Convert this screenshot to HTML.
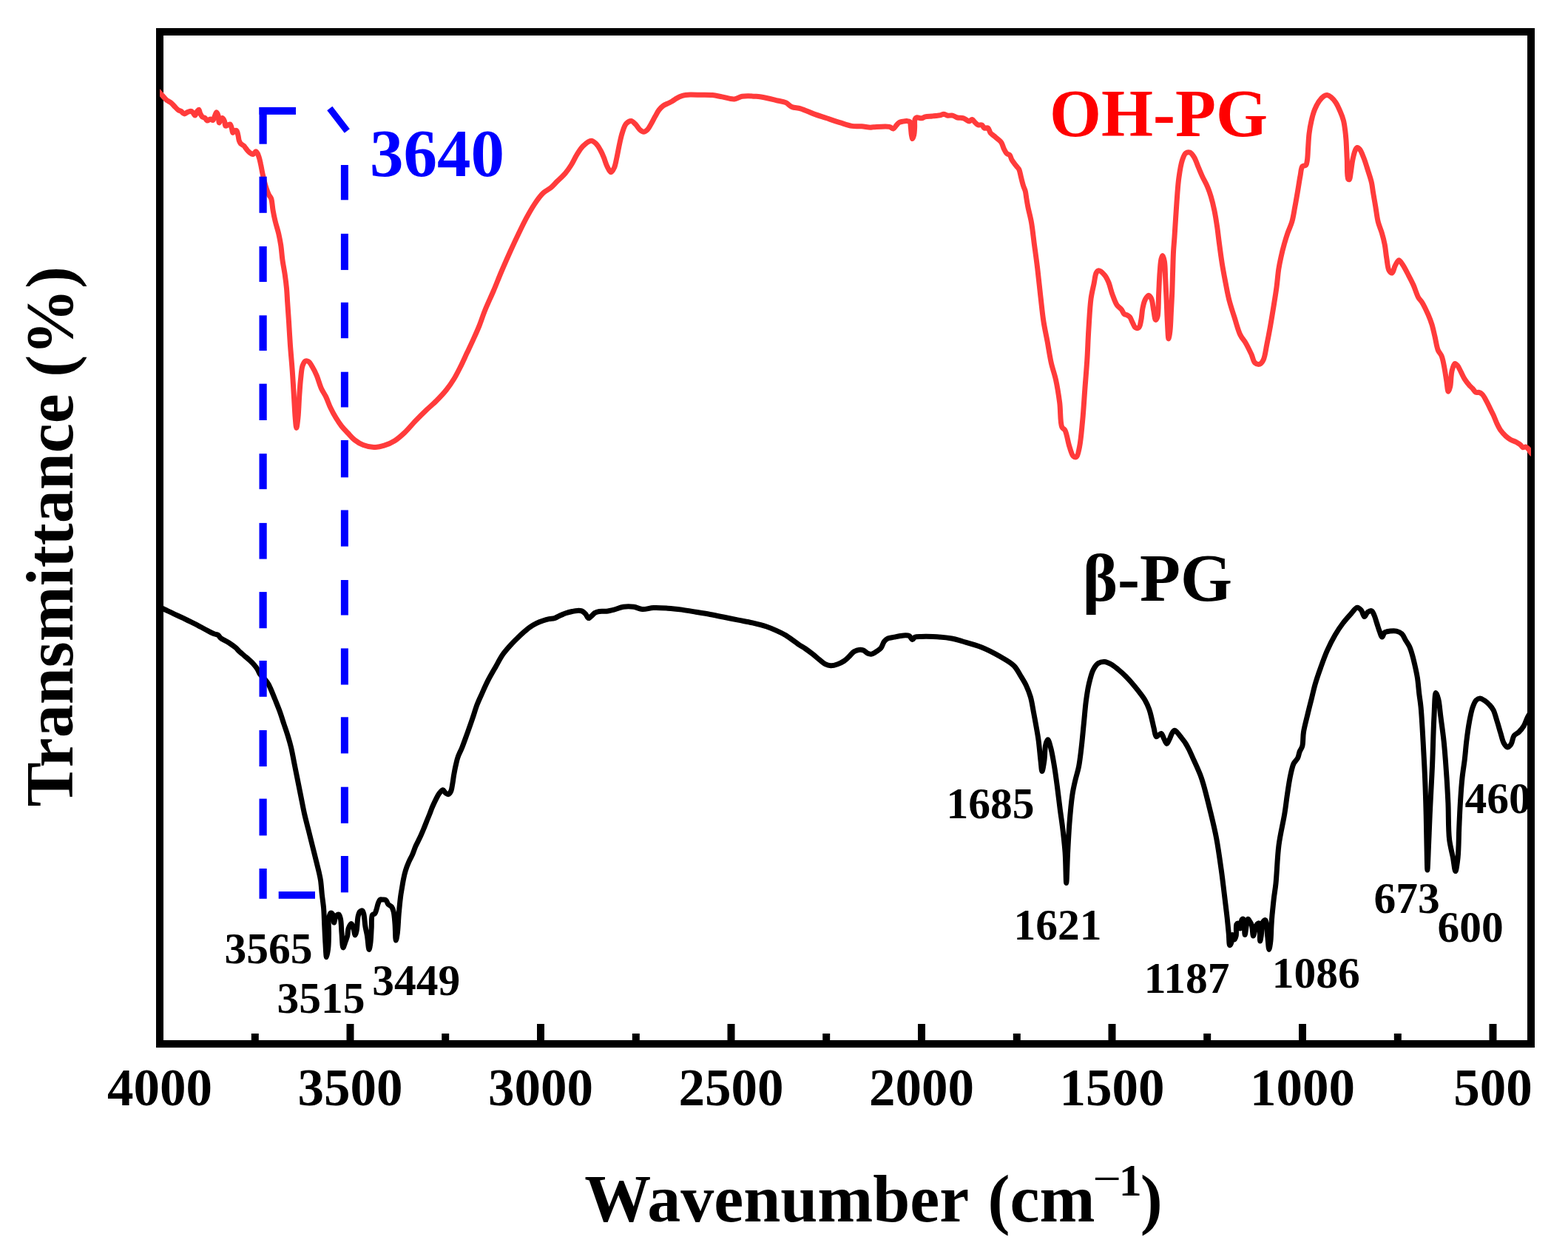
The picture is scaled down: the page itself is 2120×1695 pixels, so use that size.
<!DOCTYPE html>
<html><head><meta charset="utf-8"><style>
html,body{margin:0;padding:0;background:#fff;}
svg{display:block;}
text{font-family:"Liberation Serif","Times New Roman",serif;font-weight:bold;}
</style></head><body>
<svg width="2120" height="1695" viewBox="0 0 2120 1695">
<rect width="2120" height="1695" fill="#ffffff"/>
<defs><clipPath id="pc"><rect x="216" y="0" width="1854" height="1695"/></clipPath></defs>
<rect x="216" y="43" width="1854" height="1368" fill="none" stroke="#000" stroke-width="10"/>
<g stroke="#000" stroke-width="10"><line x1="344.8" y1="1406" x2="344.8" y2="1397.0"/>
<line x1="473.5" y1="1406" x2="473.5" y2="1384.0"/>
<line x1="602.2" y1="1406" x2="602.2" y2="1397.0"/>
<line x1="731.0" y1="1406" x2="731.0" y2="1384.0"/>
<line x1="859.8" y1="1406" x2="859.8" y2="1397.0"/>
<line x1="988.5" y1="1406" x2="988.5" y2="1384.0"/>
<line x1="1117.2" y1="1406" x2="1117.2" y2="1397.0"/>
<line x1="1246.0" y1="1406" x2="1246.0" y2="1384.0"/>
<line x1="1374.8" y1="1406" x2="1374.8" y2="1397.0"/>
<line x1="1503.5" y1="1406" x2="1503.5" y2="1384.0"/>
<line x1="1632.2" y1="1406" x2="1632.2" y2="1397.0"/>
<line x1="1761.0" y1="1406" x2="1761.0" y2="1384.0"/>
<line x1="1889.8" y1="1406" x2="1889.8" y2="1397.0"/>
<line x1="2018.5" y1="1406" x2="2018.5" y2="1384.0"/></g>
<g clip-path="url(#pc)">
<path d="M213.5,122.5 C214.7,123.8 215.9,124.9 217.1,126.3 C218.5,127.8 220.0,129.6 221.4,131.2 C222.8,132.7 224.0,134.2 225.6,135.5 C227.3,136.8 229.6,137.6 231.3,139.0 C233.1,140.4 234.5,142.3 236.2,144.0 C237.8,145.7 239.6,147.8 241.2,148.9 C242.4,149.7 243.5,149.6 244.7,150.3 C246.1,151.2 247.5,153.7 249.0,153.9 C250.4,154.1 251.7,152.4 253.2,151.8 C254.8,151.2 256.8,150.0 258.2,150.3 C259.3,150.5 260.1,151.6 261.0,152.5 C262.0,153.5 262.9,156.1 263.8,156.0 C264.8,155.9 265.7,151.7 266.7,150.3 C267.4,149.4 268.2,148.1 268.8,148.2 C269.7,148.4 270.0,152.2 270.9,153.9 C271.7,155.5 272.5,157.2 273.7,158.1 C274.7,158.9 276.3,158.7 277.3,159.5 C278.4,160.3 278.9,162.8 280.1,163.1 C281.3,163.4 283.0,161.1 284.4,161.0 C285.6,161.0 286.9,162.8 287.9,162.4 C289.2,161.9 289.8,157.9 290.7,156.0 C291.4,154.4 292.1,151.8 292.8,151.8 C293.5,151.8 294.4,154.2 295.0,156.0 C295.8,158.5 295.6,165.8 296.4,165.9 C296.9,166.0 297.6,162.1 298.5,161.0 C299.1,160.2 299.9,159.4 300.6,159.5 C301.6,159.7 302.8,162.1 303.5,163.8 C304.3,165.7 303.8,169.6 304.9,170.2 C305.7,170.6 307.3,169.1 308.4,168.7 C309.4,168.4 310.4,167.6 311.2,168.0 C312.3,168.6 312.8,171.8 313.4,173.7 C314.0,175.6 314.0,179.2 314.8,179.4 C315.3,179.5 316.1,177.7 316.9,177.2 C317.7,176.7 318.9,176.1 319.7,176.5 C320.9,177.1 321.3,180.7 321.9,182.9 C322.5,185.2 322.6,188.0 323.3,190.0 C323.9,191.6 324.4,193.0 325.4,194.2 C326.5,195.4 328.4,195.9 329.6,197.0 C330.7,198.0 331.5,199.4 332.5,200.6 C333.4,201.8 334.2,203.0 335.3,204.1 C336.5,205.4 338.2,207.0 339.6,207.7 C340.6,208.2 341.5,208.7 342.4,208.4 C343.6,208.1 344.9,204.8 345.9,204.8 C346.7,204.8 347.4,206.0 348.0,207.0 C348.9,208.4 349.5,210.5 350.2,212.6 C351.1,215.3 351.8,218.6 352.5,222.0 C353.4,225.9 354.0,230.4 355.0,234.8 C356.0,239.6 357.2,244.9 358.6,249.7 C360.0,254.4 361.9,260.0 363.5,263.3 C364.5,265.4 365.8,266.0 366.6,268.2 C368.0,271.9 368.1,279.0 369.1,284.3 C370.0,289.4 371.0,294.2 372.2,299.2 C373.5,304.5 375.3,309.9 376.6,315.3 C377.8,320.6 378.8,325.7 379.7,331.4 C380.7,337.9 381.1,345.7 382.1,352.5 C383.0,358.9 384.3,364.9 385.2,371.1 C386.1,377.4 386.9,383.6 387.5,390.0 C388.1,396.6 388.3,403.0 388.8,410.0 C389.3,417.8 389.9,426.1 390.5,434.8 C391.1,444.6 391.7,455.5 392.4,465.8 C393.1,476.1 394.1,485.9 394.9,496.7 C395.8,508.5 396.6,522.1 397.3,533.9 C398.0,544.7 398.5,556.7 399.2,564.9 C399.7,570.4 400.2,578.5 400.8,578.5 C401.4,578.5 402.3,570.4 402.9,564.9 C403.8,556.7 404.1,543.4 404.8,533.9 C405.4,525.9 405.8,518.6 406.6,511.6 C407.3,505.5 407.6,498.5 409.1,494.3 C410.1,491.6 411.2,488.9 412.8,488.1 C414.0,487.5 415.9,487.9 417.2,488.7 C419.1,489.8 420.5,492.8 422.1,495.5 C424.2,498.9 426.4,503.4 428.3,507.9 C430.5,513.1 432.2,520.1 434.5,525.2 C436.4,529.4 438.7,532.3 440.7,536.4 C442.9,541.0 444.6,546.5 446.9,551.3 C449.1,556.0 451.7,560.7 454.3,564.9 C456.7,568.8 459.1,572.5 461.8,576.0 C464.5,579.4 467.6,582.4 470.5,585.5 C473.4,588.6 476.0,592.0 479.4,594.6 C482.9,597.3 486.9,599.9 491.2,601.6 C495.6,603.3 500.7,604.5 505.4,604.6 C510.1,604.7 514.9,603.6 519.5,602.2 C524.3,600.7 529.2,598.5 533.7,595.7 C538.3,592.8 542.3,589.2 546.7,585.1 C551.8,580.4 556.9,573.8 562.0,568.6 C566.8,563.7 571.4,559.1 576.2,554.5 C580.9,550.0 585.8,546.0 590.3,541.5 C594.8,537.0 599.3,532.3 603.3,527.3 C607.2,522.4 610.6,517.4 613.9,512.0 C617.3,506.4 620.3,500.2 623.3,494.3 C626.2,488.4 628.8,482.5 631.6,476.6 C634.4,470.7 637.2,464.9 639.9,458.9 C642.7,452.7 645.5,446.6 648.1,440.1 C650.8,433.3 652.9,426.3 655.9,419.0 C659.2,410.9 663.4,402.1 667.1,393.5 C670.9,384.7 674.4,375.3 678.2,366.5 C681.9,357.9 685.6,349.4 689.4,341.0 C693.1,332.9 696.8,324.8 700.6,317.0 C704.3,309.4 707.9,301.8 711.7,294.7 C715.3,288.0 719.0,281.4 722.9,275.6 C726.4,270.4 730.0,265.2 734.0,261.3 C737.5,257.9 741.9,256.1 745.2,253.3 C748.2,250.8 750.2,248.2 753.1,245.3 C756.5,241.9 761.0,238.1 764.3,234.2 C767.4,230.6 769.8,227.0 772.3,223.0 C775.1,218.6 777.4,213.1 780.2,208.7 C782.7,204.7 785.0,200.6 788.2,197.5 C791.4,194.5 796.1,190.3 799.4,190.3 C801.9,190.3 804.1,192.6 806.1,194.5 C808.4,196.7 810.3,200.2 812.0,203.3 C813.7,206.4 815.0,209.5 816.4,212.9 C817.9,216.6 819.1,221.2 820.8,224.7 C822.3,227.7 824.3,232.7 826.0,232.8 C827.5,232.9 829.2,229.5 830.4,226.9 C832.1,223.2 832.9,217.4 834.1,212.2 C835.4,206.4 836.5,199.5 837.8,193.7 C839.0,188.5 839.9,183.6 841.5,179.0 C842.9,174.8 844.2,169.8 846.6,167.2 C848.4,165.2 851.2,163.4 853.3,163.5 C855.4,163.6 857.3,166.1 859.2,167.9 C861.3,169.9 863.0,173.5 865.1,175.3 C866.7,176.7 868.5,178.3 870.2,178.3 C871.9,178.3 873.8,176.8 875.4,175.3 C877.4,173.4 878.8,170.0 880.5,167.2 C882.3,164.2 883.9,160.7 885.7,157.6 C887.4,154.6 888.9,151.3 890.9,148.8 C892.7,146.5 894.7,144.4 896.8,142.9 C898.7,141.5 900.7,140.9 902.7,139.9 C904.7,138.9 906.8,138.0 908.6,137.0 C910.2,136.1 911.4,135.0 913.0,134.0 C914.8,132.9 916.8,131.6 918.9,130.7 C921.2,129.7 923.7,128.9 926.3,128.5 C929.1,128.0 932.0,128.1 935.0,128.1 C938.2,128.1 941.2,128.2 945.0,128.3 C950.2,128.4 957.7,128.1 963.3,128.6 C968.0,129.1 971.7,130.1 976.3,130.9 C981.5,131.8 987.9,134.3 992.8,133.9 C996.8,133.6 999.3,131.0 1003.4,130.3 C1008.7,129.4 1016.3,129.8 1022.3,130.3 C1027.7,130.7 1032.8,131.7 1037.6,132.7 C1041.8,133.5 1045.4,134.6 1049.4,135.6 C1053.6,136.6 1058.7,136.9 1062.4,138.6 C1065.6,140.1 1067.4,143.1 1070.6,144.5 C1074.0,146.0 1078.1,145.5 1082.4,146.8 C1087.8,148.4 1094.2,151.7 1100.1,153.9 C1106.0,156.1 1111.9,157.8 1117.8,159.8 C1123.7,161.8 1129.7,163.9 1135.5,165.7 C1141.1,167.4 1146.8,169.6 1152.0,170.4 C1156.5,171.1 1160.8,170.5 1165.0,170.8 C1169.0,171.1 1173.7,172.2 1176.7,172.2 C1178.5,172.2 1179.1,171.9 1181.1,171.8 C1185.6,171.6 1198.0,170.3 1202.6,171.4 C1205.0,171.9 1206.2,174.3 1207.8,174.0 C1209.4,173.7 1210.7,170.7 1212.1,169.2 C1213.4,167.9 1214.3,166.3 1215.8,165.5 C1217.3,164.6 1219.3,164.4 1221.0,164.1 C1222.7,163.8 1224.6,163.5 1226.2,163.6 C1227.6,163.7 1229.1,163.6 1230.0,164.5 C1231.3,165.9 1231.0,170.1 1231.4,173.0 C1231.8,176.1 1231.9,179.8 1232.4,182.5 C1232.8,184.5 1233.3,187.6 1233.8,187.6 C1234.4,187.6 1235.2,184.5 1235.7,182.5 C1236.3,179.9 1236.4,176.3 1236.6,173.0 C1236.9,169.3 1236.1,163.5 1237.1,161.2 C1237.6,160.0 1238.3,159.3 1239.4,158.9 C1241.0,158.4 1244.0,160.0 1246.0,159.8 C1247.8,159.6 1248.9,158.4 1250.8,157.9 C1253.4,157.3 1257.6,157.3 1260.2,157.0 C1262.0,156.8 1263.2,156.7 1264.9,156.5 C1267.0,156.3 1270.0,156.1 1272.0,155.6 C1273.5,155.2 1274.4,154.2 1275.8,154.2 C1277.5,154.2 1279.4,155.9 1281.3,156.2 C1283.4,156.5 1285.7,155.7 1287.9,156.1 C1290.2,156.6 1292.1,158.4 1294.5,159.0 C1297.1,159.7 1300.2,159.0 1302.8,159.8 C1305.4,160.6 1308.1,163.9 1310.2,163.9 C1311.8,163.9 1313.0,161.3 1314.3,161.5 C1315.7,161.7 1317.0,164.3 1318.4,165.6 C1319.8,166.8 1321.0,168.4 1322.6,168.9 C1324.1,169.4 1326.1,168.3 1327.5,168.9 C1328.9,169.6 1329.4,172.3 1330.8,173.0 C1332.2,173.7 1334.5,172.2 1335.8,173.0 C1337.4,174.0 1337.7,177.8 1339.1,179.6 C1340.4,181.3 1342.4,182.4 1344.0,183.8 C1345.7,185.2 1347.4,186.4 1349.0,187.9 C1350.7,189.4 1352.7,190.8 1354.0,192.8 C1355.5,195.1 1356.0,198.5 1357.3,201.1 C1358.5,203.5 1359.8,206.3 1361.4,207.7 C1362.5,208.7 1364.1,208.4 1365.1,209.4 C1366.5,210.8 1366.8,213.9 1368.0,216.0 C1369.2,218.1 1370.8,220.1 1372.1,221.8 C1373.2,223.3 1374.4,224.6 1375.4,225.9 C1376.3,227.1 1377.2,227.7 1377.9,229.2 C1379.0,231.5 1379.5,235.6 1380.4,239.1 C1381.4,243.0 1382.6,248.0 1383.7,251.5 C1384.5,254.1 1385.5,255.6 1386.2,258.1 C1387.0,261.0 1387.2,264.5 1387.8,268.0 C1388.4,271.8 1389.0,275.5 1389.9,280.0 C1391.1,286.0 1393.2,293.0 1394.5,300.6 C1396.1,309.8 1397.2,321.3 1398.6,331.6 C1400.0,341.9 1401.4,351.8 1402.7,362.6 C1404.1,374.4 1405.4,387.6 1406.8,399.8 C1408.2,411.7 1409.3,424.0 1411.0,434.9 C1412.5,444.5 1414.4,452.6 1416.1,461.7 C1417.8,471.1 1419.3,481.6 1421.3,490.6 C1423.1,498.7 1425.7,505.1 1427.5,513.3 C1429.6,522.8 1431.3,533.8 1432.7,544.3 C1434.1,555.1 1433.2,571.7 1435.8,577.3 C1436.9,579.7 1438.6,579.3 1439.9,581.5 C1442.4,585.9 1443.9,597.8 1446.1,604.2 C1447.7,609.0 1449.0,614.7 1451.2,616.6 C1452.4,617.7 1454.2,618.3 1455.4,617.6 C1457.5,616.4 1458.3,609.8 1459.5,604.2 C1461.4,595.3 1462.4,581.3 1463.6,569.1 C1464.9,555.9 1465.7,541.6 1466.7,527.8 C1467.7,514.0 1468.9,500.3 1469.8,486.5 C1470.7,472.7 1471.0,459.0 1471.9,445.2 C1472.8,431.4 1473.5,415.3 1475.0,403.9 C1476.1,395.8 1477.8,389.5 1479.1,383.2 C1480.2,378.0 1480.6,371.7 1482.2,368.8 C1483.1,367.2 1484.0,365.8 1485.3,365.7 C1487.4,365.6 1491.4,369.3 1493.6,371.9 C1495.9,374.5 1497.2,377.6 1498.7,381.2 C1500.7,385.8 1501.9,392.4 1503.9,397.7 C1505.8,402.7 1507.6,408.6 1510.1,412.2 C1511.9,414.9 1514.6,416.1 1516.3,418.3 C1517.8,420.3 1518.5,423.3 1520.0,424.5 C1521.1,425.4 1522.6,425.2 1523.8,425.8 C1525.1,426.5 1526.5,427.3 1527.6,428.6 C1529.1,430.4 1530.0,433.7 1531.3,436.1 C1532.5,438.4 1533.4,441.8 1535.1,442.8 C1536.4,443.6 1538.6,443.7 1539.8,442.8 C1541.5,441.5 1541.9,437.0 1542.7,433.3 C1543.8,428.5 1543.9,421.4 1545.0,416.3 C1545.9,412.1 1546.7,408.0 1548.3,405.0 C1549.6,402.6 1551.5,399.3 1553.0,399.3 C1554.3,399.3 1555.8,401.8 1556.8,404.0 C1558.4,407.5 1558.7,414.3 1559.7,419.2 C1560.6,423.8 1561.3,432.2 1562.5,432.4 C1563.2,432.5 1564.3,430.6 1564.9,428.6 C1566.6,423.1 1566.1,406.1 1566.7,395.5 C1567.2,385.7 1567.5,375.4 1568.2,367.2 C1568.7,360.8 1569.0,354.1 1570.0,350.2 C1570.5,348.1 1571.3,345.5 1571.9,345.5 C1572.7,345.5 1573.7,349.8 1574.3,353.0 C1575.4,358.6 1575.3,368.4 1575.7,376.7 C1576.2,385.7 1576.6,395.2 1577.1,405.0 C1577.6,415.6 1577.9,428.4 1578.5,438.0 C1578.9,445.5 1579.3,457.9 1580.0,457.9 C1580.5,457.9 1581.4,451.7 1581.9,447.5 C1582.7,441.2 1582.9,432.1 1583.3,423.9 C1583.8,414.9 1584.3,405.0 1584.7,395.5 C1585.1,386.1 1585.3,376.6 1585.6,367.2 C1585.9,357.8 1586.1,347.4 1586.6,338.9 C1587.0,332.0 1587.5,327.6 1588.0,320.0 C1588.8,308.2 1589.9,288.9 1590.9,275.0 C1591.8,262.9 1592.4,251.4 1593.8,241.0 C1595.0,232.1 1596.4,222.6 1598.5,216.4 C1599.8,212.4 1601.1,208.6 1603.2,207.0 C1604.8,205.8 1607.2,205.5 1608.9,206.1 C1611.0,206.9 1612.9,210.0 1614.6,212.7 C1616.8,216.2 1618.3,221.5 1620.2,225.9 C1622.1,230.3 1623.9,234.7 1625.9,239.1 C1628.0,243.5 1630.6,247.8 1632.5,252.3 C1634.4,256.7 1635.7,260.7 1637.2,265.6 C1638.9,271.3 1640.5,277.8 1641.9,284.4 C1643.4,291.6 1644.6,299.5 1645.7,307.1 C1646.8,314.7 1647.5,322.0 1648.6,329.8 C1649.7,338.3 1650.9,347.4 1652.3,356.2 C1653.7,365.0 1655.5,374.2 1657.1,382.7 C1658.6,390.5 1659.8,397.7 1661.8,405.3 C1663.9,413.4 1666.7,421.9 1669.3,429.9 C1671.8,437.6 1673.9,446.5 1676.9,452.6 C1679.1,457.2 1682.0,459.8 1684.4,463.9 C1687.1,468.5 1689.8,474.3 1692.0,479.0 C1693.8,483.0 1694.4,488.2 1696.7,490.3 C1698.5,491.9 1701.4,492.8 1703.3,492.2 C1705.2,491.6 1706.8,489.3 1708.1,486.6 C1710.4,482.0 1711.3,473.0 1712.8,465.8 C1714.4,458.0 1716.0,449.7 1717.5,441.2 C1719.1,432.1 1720.7,422.0 1722.2,412.9 C1723.6,404.4 1724.9,396.5 1726.0,388.3 C1727.1,380.1 1727.7,371.0 1728.8,363.8 C1729.7,358.1 1730.5,354.0 1731.7,348.7 C1733.0,342.7 1734.7,335.7 1736.4,329.8 C1737.9,324.5 1739.4,319.7 1741.1,314.7 C1742.8,309.6 1745.3,305.0 1746.8,299.6 C1748.5,293.7 1749.4,287.2 1750.6,280.7 C1751.9,273.9 1753.1,267.0 1754.3,259.9 C1755.6,252.5 1756.8,243.6 1758.1,237.2 C1759.0,232.5 1759.0,227.1 1760.9,224.9 C1762.1,223.5 1764.6,224.3 1765.7,223.1 C1767.0,221.6 1767.0,218.9 1767.5,216.0 C1768.2,211.5 1768.3,204.3 1768.7,198.5 C1769.1,192.6 1769.3,186.7 1770.0,180.8 C1770.7,174.9 1771.8,168.7 1773.1,163.1 C1774.3,157.9 1775.6,152.7 1777.5,148.1 C1779.2,143.9 1781.4,139.7 1783.7,136.5 C1785.6,133.8 1787.8,131.2 1789.9,129.9 C1791.4,129.0 1792.8,128.5 1794.3,128.6 C1796.0,128.7 1797.9,129.9 1799.6,131.2 C1801.8,132.9 1803.9,135.5 1805.8,138.3 C1808.1,141.7 1810.2,146.5 1812.0,150.7 C1813.8,154.8 1815.4,158.8 1816.5,163.1 C1817.6,167.4 1818.1,172.0 1818.7,176.4 C1819.3,180.8 1819.6,184.4 1820.0,189.6 C1820.5,196.9 1820.8,207.4 1821.3,216.2 C1821.7,224.8 1820.9,239.3 1822.7,241.9 C1823.2,242.6 1823.9,242.9 1824.4,242.7 C1825.4,242.2 1825.6,237.4 1826.2,233.9 C1827.1,229.0 1827.7,221.6 1828.8,216.2 C1829.8,211.4 1831.0,205.8 1832.4,202.9 C1833.2,201.3 1834.0,199.6 1835.0,199.4 C1836.0,199.2 1837.5,200.6 1838.6,202.0 C1840.5,204.3 1842.2,209.3 1843.9,213.5 C1845.8,218.3 1847.5,224.0 1849.2,229.5 C1851.0,235.2 1853.3,241.7 1854.5,247.2 C1855.5,251.8 1855.7,255.3 1856.5,260.0 C1857.5,265.9 1858.8,273.2 1859.9,279.8 C1861.0,286.4 1861.7,293.5 1863.2,299.6 C1864.5,305.0 1866.7,309.4 1868.2,314.5 C1869.8,319.8 1871.2,325.3 1872.3,331.0 C1873.4,336.9 1873.8,343.3 1874.8,349.2 C1875.8,354.8 1876.1,362.5 1878.1,365.7 C1879.2,367.5 1881.0,369.3 1882.2,369.0 C1883.9,368.6 1884.7,362.1 1886.3,359.1 C1887.8,356.4 1889.6,351.8 1891.3,351.7 C1892.9,351.6 1894.6,355.0 1896.3,357.5 C1898.9,361.2 1902.0,367.5 1904.5,372.3 C1906.9,376.8 1909.0,380.8 1911.1,385.5 C1913.4,390.7 1915.4,397.9 1917.7,402.1 C1919.3,404.9 1921.0,405.9 1922.7,408.7 C1925.3,412.9 1928.6,420.0 1930.9,425.2 C1932.9,429.8 1934.4,433.7 1935.9,438.4 C1937.5,443.5 1938.6,449.3 1940.0,454.9 C1941.4,460.8 1942.3,468.3 1944.2,473.1 C1945.6,476.5 1947.8,478.1 1949.1,481.3 C1950.7,485.1 1951.4,489.7 1952.4,494.6 C1953.6,500.5 1954.7,508.3 1955.7,514.4 C1956.6,519.7 1957.1,529.1 1958.2,529.2 C1958.9,529.3 1960.0,525.5 1960.7,522.6 C1961.9,517.6 1961.6,506.9 1963.1,501.2 C1964.1,497.2 1965.5,491.9 1967.1,491.5 C1968.1,491.2 1969.5,492.9 1970.6,494.2 C1972.2,496.0 1973.5,499.3 1975.0,502.1 C1976.7,505.4 1978.4,509.5 1980.4,512.7 C1982.3,515.6 1984.5,518.5 1986.5,520.7 C1988.0,522.5 1989.5,523.5 1991.0,525.1 C1992.5,526.7 1993.7,529.6 1995.4,530.4 C1996.7,531.0 1998.4,530.0 1999.8,530.4 C2001.3,530.8 2002.8,531.7 2004.2,533.1 C2006.2,535.1 2007.9,538.8 2009.6,541.9 C2011.5,545.3 2013.2,549.2 2014.9,552.6 C2016.4,555.7 2017.9,558.3 2019.3,561.4 C2020.8,564.7 2022.1,568.6 2023.7,572.0 C2025.3,575.4 2027.0,578.9 2029.0,581.8 C2030.9,584.4 2033.0,586.7 2035.2,588.8 C2037.4,590.8 2039.8,592.7 2042.3,594.2 C2044.8,595.7 2048.0,596.4 2050.3,597.7 C2052.3,598.8 2054.1,599.9 2055.6,601.2 C2057.0,602.3 2057.8,604.4 2059.1,604.8 C2060.2,605.1 2061.6,603.7 2062.7,603.9 C2063.9,604.1 2065.1,605.4 2066.2,606.5 C2067.5,607.9 2068.6,610.6 2069.7,611.9 C2070.5,612.8 2071.2,613.3 2072.0,614.0" fill="none" stroke="#ff3b3b" stroke-width="7" stroke-linejoin="round" stroke-linecap="round"/>
<path d="M214.0,819.2 C216.3,820.4 218.2,821.5 220.9,822.9 C224.5,824.7 229.5,827.0 233.9,829.1 C238.5,831.3 243.3,833.4 248.0,835.7 C252.7,838.0 258.0,840.6 262.2,842.7 C265.7,844.4 268.5,845.9 271.6,847.5 C274.7,849.2 277.9,851.0 281.0,852.6 C284.1,854.2 287.6,856.1 290.2,857.0 C291.9,857.6 293.4,857.4 294.7,858.2 C296.2,859.1 297.0,861.3 298.5,862.5 C300.1,863.8 302.2,864.6 304.2,865.8 C306.4,867.1 308.9,868.5 311.2,870.0 C313.6,871.6 316.1,873.3 318.3,875.2 C320.4,877.0 322.0,879.1 324.0,880.9 C326.0,882.7 328.0,884.3 330.1,886.1 C332.4,888.1 335.0,890.1 337.2,892.2 C339.4,894.2 341.5,896.2 343.3,898.3 C345.0,900.3 346.7,902.3 348.0,904.5 C349.3,906.6 349.8,908.9 351.3,911.1 C353.1,913.7 356.3,916.1 358.4,918.6 C360.2,920.8 361.9,922.9 363.1,925.0 C364.1,926.7 364.5,927.9 365.5,930.0 C367.1,933.6 369.6,939.8 371.7,945.0 C373.9,950.5 376.3,956.3 378.4,962.0 C380.4,967.6 382.1,973.3 384.0,979.0 C385.9,984.7 388.0,990.6 389.6,996.0 C391.1,1000.9 392.2,1004.8 393.5,1010.0 C395.1,1016.6 396.5,1024.9 398.0,1032.4 C399.5,1039.9 401.0,1047.3 402.5,1054.8 C404.0,1062.3 405.5,1069.7 407.0,1077.2 C408.5,1084.7 409.8,1092.2 411.5,1099.6 C413.2,1107.1 415.2,1114.5 417.1,1122.0 C419.0,1129.5 420.8,1137.0 422.7,1144.5 C424.6,1152.0 426.7,1160.4 428.3,1166.9 C429.5,1171.8 430.6,1175.9 431.5,1180.0 C432.3,1183.5 432.9,1186.1 433.5,1190.0 C434.3,1195.4 434.7,1203.0 435.4,1209.5 C436.1,1216.0 437.2,1222.4 437.7,1228.9 C438.2,1235.4 438.3,1241.4 438.6,1248.4 C439.0,1256.4 439.4,1266.4 439.9,1274.4 C440.4,1281.3 440.7,1293.8 441.5,1293.8 C442.1,1293.8 443.3,1285.7 443.8,1280.9 C444.4,1275.1 444.4,1267.9 444.5,1261.4 C444.6,1254.9 443.7,1246.9 444.5,1241.9 C445.0,1238.7 445.9,1234.5 447.1,1234.1 C448.0,1233.8 449.5,1235.3 450.3,1236.7 C451.5,1238.9 450.9,1247.0 451.6,1247.1 C452.2,1247.2 452.8,1240.6 454.2,1238.7 C455.2,1237.3 457.1,1235.8 458.1,1236.1 C459.3,1236.5 459.8,1239.3 460.4,1241.9 C461.5,1246.4 461.4,1254.9 462.0,1261.4 C462.6,1267.9 462.8,1280.7 463.9,1280.9 C464.6,1281.0 465.6,1276.8 466.5,1274.4 C467.6,1271.5 469.0,1267.9 469.8,1264.6 C470.5,1261.4 470.1,1257.7 471.1,1254.9 C472.0,1252.4 473.9,1248.4 475.0,1248.4 C476.0,1248.4 476.8,1251.5 477.6,1253.6 C478.6,1256.4 479.4,1264.0 480.2,1264.0 C480.8,1264.0 481.6,1260.7 482.1,1258.1 C483.1,1253.5 483.0,1243.4 484.1,1238.7 C484.8,1235.9 485.4,1233.5 486.6,1232.2 C487.5,1231.3 489.1,1230.5 489.9,1230.9 C490.9,1231.3 491.3,1233.4 491.8,1235.4 C492.8,1239.1 493.0,1246.5 493.8,1251.6 C494.5,1256.2 495.6,1259.9 496.4,1264.6 C497.4,1270.3 498.1,1283.4 499.0,1283.4 C499.6,1283.4 500.4,1278.0 500.9,1274.4 C501.6,1269.2 501.8,1261.3 502.2,1254.9 C502.6,1248.7 501.7,1239.6 503.5,1236.7 C504.3,1235.4 506.0,1235.8 506.8,1234.8 C507.8,1233.7 508.1,1232.0 508.7,1230.2 C509.6,1227.7 510.3,1223.7 511.3,1221.1 C512.1,1219.1 512.7,1216.7 513.9,1216.0 C514.8,1215.5 515.9,1215.9 517.1,1216.0 C518.5,1216.1 520.5,1215.8 521.7,1216.6 C523.2,1217.6 523.5,1220.9 524.9,1222.4 C526.2,1223.8 528.3,1224.2 529.5,1225.7 C530.8,1227.4 531.4,1229.5 532.1,1232.2 C533.1,1236.3 533.5,1242.5 534.0,1248.4 C534.6,1255.3 534.5,1271.0 535.3,1271.1 C535.8,1271.1 536.7,1265.4 537.3,1261.4 C538.2,1254.8 538.5,1243.8 539.2,1235.4 C539.9,1227.6 540.7,1219.2 541.5,1212.7 C542.1,1207.8 542.8,1204.1 543.5,1200.0 C544.2,1196.1 544.7,1192.4 545.5,1188.5 C546.3,1184.5 547.2,1180.4 548.4,1176.5 C549.6,1172.6 551.1,1168.7 552.7,1165.1 C554.2,1161.6 556.1,1158.6 557.6,1155.2 C559.2,1151.6 560.3,1147.6 561.9,1143.9 C563.6,1140.1 565.7,1136.4 567.5,1132.6 C569.3,1128.8 570.9,1124.9 572.5,1121.2 C574.0,1117.6 575.3,1114.1 576.7,1110.6 C578.1,1107.1 579.7,1103.3 581.0,1100.0 C582.1,1097.2 582.9,1094.8 584.0,1092.0 C585.3,1089.0 586.7,1085.8 588.3,1082.6 C590.1,1079.1 592.1,1074.6 594.2,1072.0 C595.7,1070.1 597.5,1067.7 598.9,1067.8 C600.2,1067.9 601.2,1071.0 602.5,1072.0 C603.6,1072.8 604.9,1073.9 606.0,1073.7 C607.3,1073.4 608.7,1071.4 609.6,1069.6 C610.9,1067.0 611.2,1062.6 611.9,1059.0 C612.6,1055.2 613.0,1051.1 613.7,1047.2 C614.4,1043.3 615.1,1039.3 616.0,1035.4 C616.9,1031.5 617.6,1027.5 619.0,1023.6 C620.4,1019.4 622.6,1015.7 624.5,1011.0 C626.9,1005.0 629.6,997.2 632.1,990.4 C634.5,983.7 636.9,976.9 639.1,970.4 C641.2,964.2 642.9,958.1 645.1,952.3 C647.2,946.8 649.7,941.7 652.1,936.3 C654.6,930.7 657.2,924.9 660.1,919.2 C663.2,913.2 666.8,907.1 670.2,901.2 C673.5,895.4 676.6,889.2 680.2,884.1 C683.4,879.6 686.8,875.9 690.2,872.1 C693.4,868.5 696.9,865.1 700.1,862.0 C703.0,859.2 705.6,856.7 708.5,854.2 C711.3,851.8 714.1,849.4 717.0,847.4 C719.8,845.5 722.6,843.8 725.5,842.4 C728.3,841.0 731.1,840.0 734.0,839.0 C736.8,838.1 739.7,837.3 742.4,836.7 C744.9,836.2 747.4,836.3 749.8,835.6 C752.2,834.9 754.2,833.3 756.6,832.2 C759.3,831.0 762.2,829.8 765.1,828.8 C767.9,827.9 770.9,827.1 773.6,826.5 C776.0,826.0 778.2,825.5 780.4,825.4 C782.5,825.3 784.7,825.2 786.6,825.9 C788.5,826.6 790.2,828.3 791.7,829.9 C793.2,831.5 794.2,835.3 795.6,835.6 C796.8,835.8 798.2,833.8 799.6,832.7 C801.2,831.4 802.8,829.2 804.7,828.2 C806.5,827.2 808.2,826.9 810.4,826.5 C813.2,826.1 816.8,826.6 820.0,826.2 C823.4,825.8 826.6,825.0 830.2,824.1 C834.2,823.1 838.5,820.9 842.9,820.3 C847.4,819.6 852.5,819.7 856.9,820.3 C861.0,820.9 864.3,823.2 868.4,823.5 C873.1,823.8 878.3,821.8 883.7,821.6 C889.7,821.3 896.4,821.8 902.8,822.2 C909.2,822.6 915.5,823.3 921.9,824.1 C928.3,825.0 934.6,826.2 941.0,827.3 C947.4,828.4 953.7,829.3 960.1,830.5 C966.5,831.7 972.8,833.0 979.2,834.3 C985.6,835.6 991.9,836.8 998.3,838.1 C1004.7,839.4 1011.1,840.4 1017.4,841.9 C1023.8,843.4 1030.8,845.1 1036.5,847.0 C1041.2,848.6 1045.0,850.2 1049.2,852.1 C1053.5,854.0 1057.8,856.0 1062.0,858.5 C1066.3,861.1 1071.2,865.0 1074.7,867.4 C1077.2,869.1 1078.8,870.3 1081.0,871.8 C1083.4,873.4 1085.8,874.7 1088.5,876.5 C1091.7,878.7 1095.4,881.5 1098.7,884.1 C1101.9,886.6 1105.0,889.4 1108.0,891.8 C1110.7,893.9 1113.0,896.4 1115.7,897.7 C1118.1,898.9 1120.6,899.7 1123.3,899.8 C1126.2,899.9 1129.6,898.8 1132.6,897.7 C1135.6,896.7 1138.5,895.2 1141.1,893.5 C1143.6,891.8 1145.7,889.6 1147.9,887.5 C1150.2,885.3 1152.2,882.3 1154.7,880.7 C1157.0,879.3 1160.0,878.4 1162.3,878.2 C1164.1,878.0 1165.7,878.3 1167.4,879.0 C1169.4,879.8 1171.4,882.5 1173.4,883.3 C1175.1,884.0 1176.7,884.4 1178.5,884.1 C1180.8,883.7 1183.9,881.4 1186.1,879.9 C1188.0,878.6 1189.7,877.5 1191.2,875.7 C1192.9,873.5 1193.7,869.4 1195.4,867.2 C1196.9,865.3 1198.4,863.9 1200.5,862.9 C1202.9,861.8 1206.2,861.8 1209.0,861.2 C1211.8,860.6 1214.8,859.9 1217.5,859.5 C1219.9,859.1 1222.2,858.7 1224.3,858.7 C1226.1,858.7 1227.9,858.7 1229.4,859.5 C1231.1,860.5 1232.3,864.6 1233.7,864.6 C1234.8,864.6 1235.5,861.9 1237.0,861.2 C1239.1,860.2 1242.2,860.5 1245.5,860.4 C1249.9,860.2 1255.3,860.2 1261.2,860.5 C1268.7,860.9 1279.4,861.7 1286.7,863.0 C1292.4,864.0 1296.1,865.4 1301.8,867.0 C1309.2,869.1 1318.9,871.6 1327.3,875.0 C1335.9,878.5 1345.1,883.3 1352.8,887.8 C1359.5,891.7 1366.4,895.3 1371.0,900.0 C1374.9,903.9 1376.9,908.6 1379.7,913.1 C1382.4,917.5 1385.2,921.9 1387.5,926.7 C1389.8,931.6 1391.8,936.7 1393.4,942.3 C1395.1,948.4 1396.0,955.1 1397.3,961.8 C1398.6,968.8 1400.0,976.4 1401.2,983.2 C1402.3,989.3 1403.2,994.2 1404.1,1000.7 C1405.2,1008.8 1406.1,1020.3 1407.0,1028.0 C1407.7,1033.6 1408.1,1042.6 1408.9,1042.6 C1409.7,1042.6 1411.1,1033.4 1411.9,1028.0 C1412.8,1021.6 1412.5,1011.7 1413.8,1006.6 C1414.5,1003.6 1415.7,999.7 1416.7,999.7 C1417.9,999.7 1419.4,1006.1 1420.6,1010.5 C1422.4,1017.1 1424.1,1027.2 1425.5,1035.8 C1427.0,1044.7 1428.1,1053.6 1429.4,1063.0 C1430.7,1073.0 1432.0,1084.0 1433.3,1094.2 C1434.6,1104.1 1436.1,1113.7 1437.2,1123.4 C1438.3,1133.1 1439.4,1142.0 1440.1,1152.6 C1441.0,1165.1 1441.1,1193.5 1441.7,1193.5 C1442.3,1193.5 1442.9,1166.1 1443.6,1152.6 C1444.3,1139.4 1444.9,1126.6 1445.9,1113.6 C1446.9,1100.6 1448.2,1085.4 1449.8,1074.7 C1450.9,1067.1 1452.2,1061.7 1453.7,1055.2 C1455.2,1048.7 1457.2,1043.0 1458.6,1035.8 C1460.3,1027.1 1461.4,1016.3 1462.5,1006.6 C1463.6,996.9 1464.4,987.1 1465.4,977.4 C1466.4,967.6 1467.1,957.3 1468.3,948.1 C1469.4,939.9 1470.5,932.2 1472.2,924.8 C1473.8,918.0 1475.5,910.3 1478.1,905.3 C1480.0,901.6 1482.1,898.3 1484.9,896.5 C1487.4,894.9 1490.8,894.3 1493.6,894.5 C1496.4,894.7 1499.0,896.1 1501.7,897.5 C1504.9,899.2 1508.0,901.8 1511.2,904.4 C1514.7,907.3 1518.4,910.5 1521.9,914.0 C1525.5,917.6 1529.2,921.8 1532.5,925.7 C1535.5,929.3 1538.3,932.7 1541.0,936.3 C1543.6,939.8 1546.3,943.2 1548.4,946.9 C1550.5,950.6 1552.3,954.6 1553.7,958.6 C1555.1,962.4 1555.9,966.2 1556.9,970.3 C1558.0,974.7 1559.0,979.7 1560.1,984.1 C1561.1,988.1 1561.7,995.1 1563.3,995.7 C1564.2,996.0 1565.4,994.3 1566.5,993.6 C1567.7,992.9 1569.1,991.2 1570.2,991.5 C1571.7,992.0 1572.6,996.5 1573.9,998.9 C1575.1,1001.1 1576.4,1005.3 1577.6,1005.3 C1578.8,1005.3 1580.1,1001.2 1581.3,998.9 C1582.6,996.3 1583.6,992.4 1585.0,990.4 C1586.0,989.0 1587.1,987.3 1588.2,987.3 C1589.4,987.3 1590.7,989.2 1591.9,990.4 C1593.4,991.9 1594.6,993.7 1596.2,995.7 C1598.1,998.2 1600.7,1001.2 1602.6,1004.2 C1604.6,1007.2 1606.2,1010.4 1607.9,1013.8 C1609.7,1017.5 1611.4,1021.6 1613.2,1025.5 C1615.0,1029.4 1616.8,1033.2 1618.5,1037.2 C1620.3,1041.3 1622.3,1045.9 1623.8,1049.9 C1625.1,1053.4 1625.7,1055.5 1627.0,1060.0 C1629.5,1068.6 1633.7,1085.5 1636.7,1097.9 C1639.6,1109.8 1642.3,1120.7 1644.6,1132.9 C1647.1,1146.1 1649.0,1160.0 1651.0,1174.3 C1653.2,1189.7 1655.5,1210.4 1657.0,1222.5 C1657.9,1229.8 1658.4,1234.0 1659.1,1240.2 C1659.8,1246.9 1660.6,1254.8 1661.2,1261.4 C1661.8,1267.2 1661.6,1277.4 1662.7,1277.7 C1663.3,1277.8 1664.3,1275.8 1664.8,1274.2 C1665.7,1271.7 1665.3,1263.7 1666.2,1263.6 C1666.9,1263.5 1668.1,1269.9 1669.0,1269.9 C1669.8,1269.9 1670.7,1267.2 1671.2,1265.0 C1672.1,1261.3 1670.6,1251.7 1671.9,1249.4 C1672.4,1248.5 1673.4,1247.8 1674.0,1248.0 C1675.1,1248.3 1676.0,1255.2 1676.8,1255.1 C1677.8,1255.0 1677.6,1244.6 1679.0,1243.0 C1679.6,1242.3 1680.5,1241.9 1681.1,1242.3 C1682.9,1243.5 1682.4,1263.6 1683.2,1263.6 C1683.8,1263.6 1684.5,1254.6 1685.3,1250.8 C1686.0,1247.7 1686.5,1242.5 1687.5,1242.3 C1688.1,1242.2 1688.9,1244.0 1689.6,1245.2 C1690.5,1246.7 1691.7,1248.4 1692.4,1250.8 C1693.5,1254.4 1693.6,1264.9 1694.5,1265.0 C1695.1,1265.0 1695.9,1260.4 1696.7,1257.9 C1697.6,1255.2 1698.2,1250.9 1699.5,1249.4 C1700.3,1248.5 1701.6,1247.6 1702.3,1248.0 C1704.3,1249.2 1702.9,1272.0 1703.7,1272.1 C1704.1,1272.1 1704.7,1267.9 1705.2,1265.0 C1706.0,1260.3 1705.5,1249.9 1707.3,1246.6 C1708.2,1244.9 1709.9,1243.3 1710.8,1243.7 C1712.8,1244.5 1712.8,1258.2 1713.7,1265.0 C1714.5,1271.4 1715.0,1283.4 1715.8,1283.4 C1716.4,1283.4 1717.4,1276.5 1717.9,1272.1 C1718.6,1266.1 1718.6,1257.2 1719.0,1250.8 C1719.3,1245.6 1719.5,1241.9 1720.0,1236.7 C1720.6,1230.3 1721.4,1222.5 1722.2,1215.4 C1723.0,1208.3 1724.1,1202.8 1725.0,1194.2 C1726.4,1180.8 1726.9,1158.8 1729.0,1142.5 C1730.9,1127.6 1734.8,1112.4 1736.8,1100.0 C1738.4,1090.4 1739.1,1082.9 1740.4,1074.3 C1741.7,1065.5 1743.1,1055.5 1744.8,1047.8 C1746.1,1041.8 1747.2,1036.0 1749.2,1031.9 C1750.7,1028.9 1753.2,1027.4 1754.5,1024.8 C1755.9,1022.1 1756.1,1018.7 1757.2,1015.9 C1758.2,1013.4 1759.8,1011.8 1760.7,1008.8 C1762.1,1004.0 1761.4,996.1 1762.5,989.4 C1763.7,982.0 1766.0,973.9 1767.8,966.4 C1769.5,959.2 1771.3,952.2 1773.1,945.1 C1774.9,938.0 1776.3,930.9 1778.4,923.9 C1780.5,916.8 1782.9,909.9 1785.5,902.7 C1788.2,895.1 1791.0,887.1 1794.3,879.6 C1797.5,872.3 1801.2,864.9 1805.0,858.4 C1808.4,852.6 1811.9,847.4 1815.6,842.5 C1819.0,838.0 1822.8,833.8 1826.2,830.1 C1829.2,826.8 1832.3,821.5 1835.0,821.2 C1836.9,821.0 1838.9,823.1 1840.4,824.8 C1842.3,826.9 1843.2,833.5 1844.8,833.6 C1846.2,833.7 1847.4,828.7 1849.2,827.4 C1850.7,826.3 1853.1,825.1 1854.5,825.7 C1856.1,826.3 1857.0,829.5 1858.1,831.9 C1859.5,834.9 1860.4,839.0 1861.6,842.5 C1862.8,846.0 1863.8,849.8 1865.1,853.1 C1866.2,856.0 1867.5,861.0 1868.7,861.1 C1869.8,861.2 1870.5,856.2 1872.2,854.9 C1874.0,853.5 1876.8,853.4 1879.3,853.1 C1882.1,852.8 1885.4,852.5 1888.1,853.1 C1890.7,853.7 1893.2,854.8 1895.2,856.6 C1897.5,858.7 1898.7,862.5 1900.5,865.5 C1902.3,868.4 1904.3,871.1 1905.8,874.3 C1907.3,877.6 1908.3,881.2 1909.4,885.0 C1910.7,889.4 1911.8,894.1 1912.9,899.1 C1914.2,904.7 1915.5,910.6 1916.5,916.8 C1917.5,923.5 1918.0,931.3 1918.8,938.0 C1919.5,944.0 1920.3,947.9 1921.0,955.0 C1922.2,966.9 1923.2,986.6 1924.1,1002.6 C1925.0,1018.9 1925.9,1035.6 1926.6,1052.1 C1927.3,1068.6 1927.8,1085.8 1928.2,1101.6 C1928.6,1116.0 1928.7,1129.9 1929.0,1142.9 C1929.3,1154.5 1929.5,1176.0 1929.9,1176.0 C1930.3,1176.0 1931.0,1154.5 1931.5,1142.9 C1932.1,1129.9 1932.7,1112.3 1933.2,1101.6 C1933.5,1094.9 1933.7,1092.1 1934.0,1085.1 C1934.6,1073.0 1935.7,1053.3 1936.5,1035.6 C1937.4,1015.2 1937.9,987.7 1938.9,969.5 C1939.6,956.6 1939.7,936.8 1941.4,936.5 C1942.3,936.4 1943.8,941.2 1944.7,944.8 C1946.3,950.8 1946.8,960.7 1948.0,969.5 C1949.3,979.7 1951.0,990.9 1952.2,1002.6 C1953.5,1015.6 1954.6,1030.1 1955.5,1043.8 C1956.5,1057.6 1957.2,1070.7 1957.9,1085.1 C1958.6,1100.9 1958.0,1121.1 1959.6,1134.7 C1960.7,1144.4 1963.1,1151.8 1964.5,1159.4 C1965.7,1165.9 1966.7,1177.6 1967.8,1177.6 C1968.9,1177.6 1970.3,1166.7 1971.1,1159.4 C1972.3,1148.5 1972.2,1131.2 1972.8,1118.2 C1973.3,1106.6 1973.7,1096.1 1974.4,1085.1 C1975.1,1074.1 1975.8,1062.3 1976.9,1052.1 C1977.8,1043.2 1979.2,1035.6 1980.2,1027.3 C1981.2,1019.1 1981.7,1011.1 1982.7,1002.6 C1983.8,993.5 1985.2,982.8 1986.8,974.5 C1988.1,967.7 1989.2,961.4 1991.0,956.3 C1992.4,952.4 1993.9,948.5 1995.9,946.4 C1997.4,944.9 1999.1,943.9 2000.9,943.9 C2002.9,943.9 2005.4,945.8 2007.5,947.2 C2009.8,948.8 2012.2,950.9 2014.1,953.0 C2016.0,955.0 2017.5,956.8 2019.0,959.6 C2021.0,963.4 2022.4,969.4 2024.0,974.5 C2025.7,979.8 2027.3,985.8 2028.9,991.0 C2030.3,995.7 2031.2,1000.8 2033.1,1004.2 C2034.5,1006.7 2036.3,1009.8 2038.0,1010.0 C2039.6,1010.1 2041.6,1007.9 2043.0,1005.9 C2044.9,1003.2 2045.0,997.1 2047.1,994.3 C2048.8,992.0 2051.6,991.4 2053.7,989.4 C2056.1,987.1 2058.4,984.2 2060.3,981.1 C2062.3,977.7 2063.5,973.0 2065.3,969.5 C2066.8,966.5 2068.7,963.9 2070.2,961.3 C2071.5,959.1 2072.7,957.1 2074.0,955.0" fill="none" stroke="#000" stroke-width="7" stroke-linejoin="round" stroke-linecap="round"/>
</g>
<g fill="#0000ff"><rect x="350.5" y="144.9" width="49.5" height="10" />
<rect x="350.5" y="145.0" width="10.2" height="49.7"/>
<rect x="350.5" y="238.7" width="10.2" height="49.1"/>
<rect x="350.5" y="333.0" width="10.2" height="48.0"/>
<rect x="350.5" y="426.3" width="10.2" height="47.7"/>
<rect x="350.5" y="518.7" width="10.2" height="49.3"/>
<rect x="350.5" y="613.2" width="10.2" height="48.0"/>
<rect x="350.5" y="706.9" width="10.2" height="48.7"/>
<rect x="350.5" y="800.1" width="10.2" height="49.1"/>
<rect x="350.5" y="893.0" width="10.2" height="48.8"/>
<rect x="350.5" y="987.0" width="10.2" height="49.0"/>
<rect x="350.5" y="1079.6" width="10.2" height="49.8"/>
<rect x="350.5" y="1174.0" width="10.2" height="40.8"/>
<rect x="460.9" y="223.0" width="10" height="47.3"/>
<rect x="460.9" y="315.9" width="10" height="49.0"/>
<rect x="460.9" y="408.8" width="10" height="48.4"/>
<rect x="460.9" y="502.7" width="10" height="47.8"/>
<rect x="460.9" y="595.0" width="10" height="50.3"/>
<rect x="460.9" y="689.5" width="10" height="49.1"/>
<rect x="460.9" y="784.0" width="10" height="47.5"/>
<rect x="460.9" y="876.4" width="10" height="49.1"/>
<rect x="460.9" y="969.3" width="10" height="49.1"/>
<rect x="460.9" y="1063.7" width="10" height="49.1"/>
<rect x="460.9" y="1157.0" width="10" height="49.3"/>
<rect x="376.7" y="1205" width="49.3" height="9.8"/>
<line x1="445.8" y1="146.6" x2="469.3" y2="177" stroke="#0000ff" stroke-width="9"/></g>
<g font-size="71" fill="#000"><text x="216.0" y="1494.4" text-anchor="middle">4000</text>
<text x="473.5" y="1494.4" text-anchor="middle">3500</text>
<text x="731.0" y="1494.4" text-anchor="middle">3000</text>
<text x="988.5" y="1494.4" text-anchor="middle">2500</text>
<text x="1246.0" y="1494.4" text-anchor="middle">2000</text>
<text x="1503.5" y="1494.4" text-anchor="middle">1500</text>
<text x="1761.0" y="1494.4" text-anchor="middle">1000</text>
<text x="2018.5" y="1494.4" text-anchor="middle">500</text></g>
<g font-size="59.5" fill="#000"><text x="303.4" y="1301.7">3565</text>
<text x="374.5" y="1369.4">3515</text>
<text x="503.3" y="1344.6">3449</text>
<text x="1279.6" y="1106.2">1685</text>
<text x="1370.4" y="1269.8">1621</text>
<text x="1546.7" y="1342.3">1187</text>
<text x="1719.8" y="1334.7">1086</text>
<text x="1857.5" y="1234.4">673</text>
<text x="1943.5" y="1272.6">600</text>
<text x="1980.4" y="1098.9">460</text></g>
<text x="499.9" y="237.6" font-size="91" fill="#0000ff">3640</text>
<text x="1419.1" y="183.5" font-size="90" fill="#ff0000">OH-PG</text>
<text x="1463.7" y="811.7" font-size="90" fill="#000">β-PG</text>
<text transform="translate(97.9,1090.6) rotate(-90)" font-size="90" fill="#000">Transmittance (%)</text>
<text y="1650.5" font-size="90" fill="#000"><tspan x="790.2">Wavenumber</tspan> <tspan x="1335.6">(cm</tspan><tspan x="1477.6" y="1615.5" font-size="68" font-weight="normal">−</tspan><tspan x="1512.8" y="1615.5" font-size="62">1</tspan><tspan x="1541.8" y="1650.5">)</tspan></text>
</svg>
</body></html>
